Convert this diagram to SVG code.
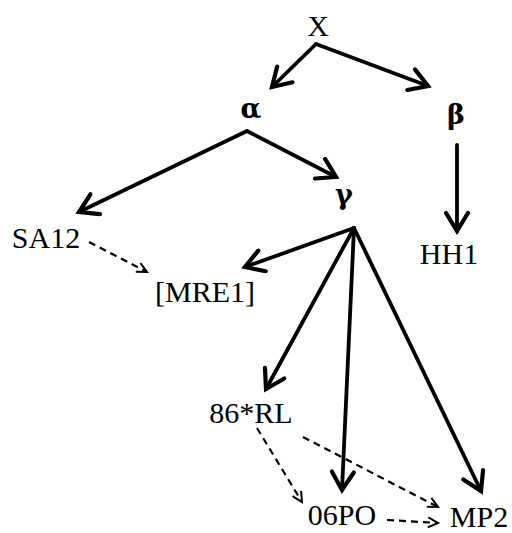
<svg xmlns="http://www.w3.org/2000/svg" width="512" height="533" viewBox="0 0 512 533">
<defs>
<marker id="sa" markerUnits="userSpaceOnUse" viewBox="-22 -13 26 26" markerWidth="26" markerHeight="26" refX="0" refY="0" orient="auto">
<path d="M-18,-11 L0,0 L-18,11" fill="none" stroke="#000" stroke-width="4.2" stroke-linecap="round" stroke-linejoin="miter"/>
</marker>
<marker id="da" markerUnits="userSpaceOnUse" viewBox="-12 -7 14 14" markerWidth="14" markerHeight="14" refX="0" refY="0" orient="auto">
<path d="M-10,-5 L0,0 L-10,5" fill="none" stroke="#000" stroke-width="2"/>
</marker>
</defs>
<style>
text{font-family:"Liberation Serif","Times New Roman",serif;font-size:30px;fill:#000;text-anchor:middle}
.g{font-family:"DejaVu Serif",serif;font-weight:bold;font-size:27px}
.s{fill:none;stroke:#000;stroke-width:3.8;stroke-linecap:round}
.d{fill:none;stroke:#000;stroke-width:2.2;stroke-dasharray:7 5}
</style>
<g id="connectors">
<line class="s" x1="316" y1="44" x2="272" y2="87" marker-end="url(#sa)"/>
<line class="s" x1="316" y1="44" x2="428" y2="86" marker-end="url(#sa)"/>
<line class="s" x1="247" y1="131" x2="79" y2="212" marker-end="url(#sa)"/>
<line class="s" x1="247" y1="131" x2="336" y2="177" marker-end="url(#sa)"/>
<line class="s" x1="457" y1="145" x2="457" y2="231" marker-end="url(#sa)"/>
<line class="s" x1="354" y1="228" x2="245" y2="267" marker-end="url(#sa)"/>
<line class="s" x1="354" y1="228" x2="266" y2="389" marker-end="url(#sa)"/>
<line class="s" x1="354" y1="228" x2="342" y2="490" marker-end="url(#sa)"/>
<line class="s" x1="354" y1="228" x2="481" y2="491" marker-end="url(#sa)"/>
<line class="d" x1="89" y1="242" x2="147" y2="272" marker-end="url(#da)"/>
<line class="d" x1="257" y1="428" x2="302" y2="502" marker-end="url(#da)"/>
<line class="d" x1="303" y1="437" x2="438" y2="507" marker-end="url(#da)"/>
<line class="d" x1="387" y1="520" x2="438" y2="523" marker-end="url(#da)"/>
</g>
<g id="X"><text x="318" y="36">X</text></g>
<g id="alpha"><text class="g" x="251" y="118">α</text></g>
<g id="beta"><text class="g" x="456" y="124">β</text></g>
<g id="gamma"><text class="g" x="344" y="204">γ</text></g>
<g id="SA12"><text x="46" y="248">SA12</text></g>
<g id="HH1"><text x="449" y="264">HH1</text></g>
<g id="MRE1"><text x="205" y="302">[MRE1]</text></g>
<g id="RL86"><text x="251" y="423">86*RL</text></g>
<g id="PO06"><text x="342" y="525">06PO</text></g>
<g id="MP2"><text x="479" y="527">MP2</text></g>
</svg>
